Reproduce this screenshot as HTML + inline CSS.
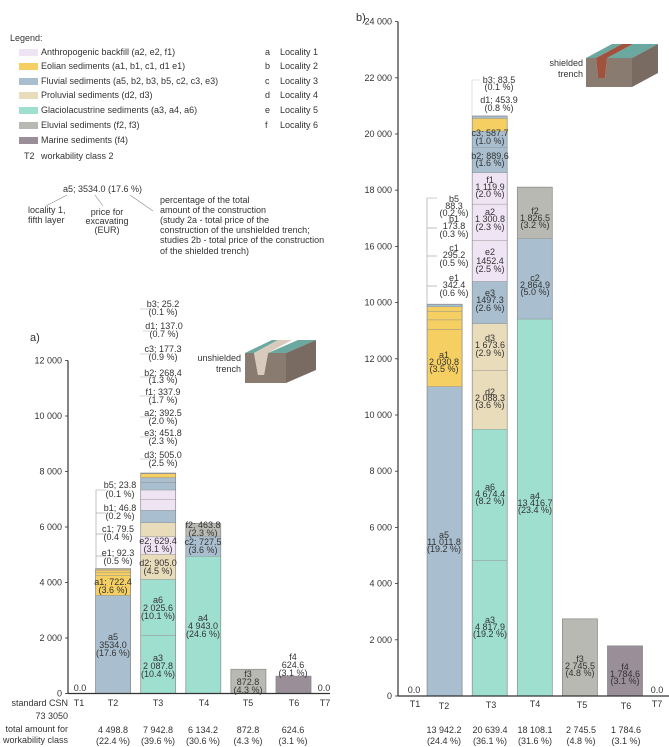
<!DOCTYPE html>
<html><head><meta charset="utf-8">
<style>
html,body{margin:0;padding:0;background:#fff;}
svg{display:block;font-family:"Liberation Sans",sans-serif;}
text{fill:#333;font-size:9px;}
.c{text-anchor:middle;}
.r{text-anchor:end;}
.lt{font-size:9px;}
</style></head>
<body>
<svg id="root" width="669" height="747" viewBox="0 0 669 747">
<g>
<text x="10" y="41" class="lt">Legend:</text>
<rect x="19" y="49" width="19" height="7" fill="#efe4f4"/><text x="41" y="55" class="lt">Anthropogenic backfill (a2, e2, f1)</text>
<rect x="19" y="63" width="19" height="7" fill="#f5cf62"/><text x="41" y="69" class="lt">Eolian sediments (a1, b1, c1, d1 e1)</text>
<rect x="19" y="78" width="19" height="7" fill="#a9bfcf"/><text x="41" y="84" class="lt">Fluvial sediments (a5, b2, b3, b5, c2, c3, e3)</text>
<rect x="19" y="92" width="19" height="7" fill="#e9dcbb"/><text x="41" y="98" class="lt">Proluvial sediments (d2, d3)</text>
<rect x="19" y="107" width="19" height="7" fill="#9fdfcf"/><text x="41" y="113" class="lt">Glaciolacustrine sediments (a3, a4, a6)</text>
<rect x="19" y="122" width="19" height="7" fill="#b9b9b3"/><text x="41" y="128" class="lt">Eluvial sediments (f2, f3)</text>
<rect x="19" y="137" width="19" height="7" fill="#9a8e99"/><text x="41" y="143" class="lt">Marine sediments (f4)</text>
<text x="24" y="159" class="lt">T2</text><text x="41" y="159" class="lt">workability class 2</text>
<text x="265" y="55" class="lt">a</text><text x="280" y="55" class="lt">Locality 1</text>
<text x="265" y="69" class="lt">b</text><text x="280" y="69" class="lt">Locality 2</text>
<text x="265" y="84" class="lt">c</text><text x="280" y="84" class="lt">Locality 3</text>
<text x="265" y="98" class="lt">d</text><text x="280" y="98" class="lt">Locality 4</text>
<text x="265" y="113" class="lt">e</text><text x="280" y="113" class="lt">Locality 5</text>
<text x="265" y="128" class="lt">f</text><text x="280" y="128" class="lt">Locality 6</text>
</g>
<g>
<text x="63" y="192" class="lt">a5; 3534.0 (17.6 %)</text>
<line x1="67" y1="195" x2="46" y2="206" stroke="#888" stroke-width="0.6"/>
<line x1="95" y1="195" x2="103" y2="206" stroke="#888" stroke-width="0.6"/>
<line x1="130" y1="195" x2="153" y2="211" stroke="#888" stroke-width="0.6"/>
<text x="28" y="213">locality 1,</text><text x="28" y="223">fifth layer</text>
<text x="107" y="215" class="c">price for</text><text x="107" y="224" class="c">excavating</text><text x="107" y="233" class="c">(EUR)</text>
<text x="160" y="203" class="lt">percentage of the total</text>
<text x="160" y="213" class="lt">amount of the construction</text>
<text x="160" y="223" class="lt">(study 2a - total price of the</text>
<text x="160" y="233" class="lt">construction of the unshielded trench;</text>
<text x="160" y="243" class="lt">studies 2b - total price of the construction</text>
<text x="160" y="254" class="lt">of the shielded trench)</text>
</g>

<text x="30" y="341" style="font-size:11px">a)</text>
<text x="356" y="21" style="font-size:11px">b)</text>

<g>
<polygon points="245,353 272,340 278,340 254,353" fill="#6aa8a0"/>
<polygon points="268,353 298,340 316,340 286,353" fill="#6aa8a0"/>
<polygon points="245,353 254,353 258,375 264,375 268,353 286,353 286,383 245,383" fill="#8a7b70"/>
<polygon points="286,353 316,340 316,370 286,383" fill="#7a6b62"/>
<polygon points="254,353 278,340 292,340 268,353 264,375 258,375" fill="#d8cbbd"/>
<text x="241" y="361" class="r">unshielded</text><text x="241" y="372" class="r">trench</text>
</g>
<g>
<polygon points="586,58 612,44 622,44 596,58" fill="#6aa8a0"/>
<polygon points="607,58 633,44 658,44 632,58" fill="#6aa8a0"/>
<polygon points="586,58 596,58 598,78 605,78 607,58 632,58 632,87 586,87" fill="#8a7b70"/>
<polygon points="632,58 658,44 658,73 632,87" fill="#7a6b62"/>
<polygon points="596,58 622,44 633,44 607,58 605,78 598,78" fill="#a0523f"/>
<text x="583" y="66" class="r">shielded</text><text x="583" y="77" class="r">trench</text>
</g>

<g id="chartA"></g>
<g id="chartB"></g>

<g>
<polyline points="106,490 96,490 96,569" fill="none" stroke="#999" stroke-width="0.6"/>
<line x1="96" y1="513" x2="106" y2="513" stroke="#999" stroke-width="0.6"/>
<line x1="96" y1="534" x2="106" y2="534" stroke="#999" stroke-width="0.6"/>
<line x1="96" y1="556" x2="106" y2="556" stroke="#999" stroke-width="0.6"/>
<text x="120" y="488" class="c">b5; 23.8</text><text x="120" y="497" class="c">(0.1 %)</text>
<text x="120" y="511" class="c">b1; 46.8</text><text x="120" y="519" class="c">(0.2 %)</text>
<text x="118" y="532" class="c">c1; 79.5</text><text x="118" y="540" class="c">(0.4 %)</text>
<text x="118" y="556" class="c">e1; 92.3</text><text x="118" y="564" class="c">(0.5 %)</text>
<text x="113" y="585" class="c">a1; 722.4</text><text x="113" y="593" class="c">(3.6 %)</text>
<text x="113" y="640" class="c">a5</text><text x="113" y="648" class="c">3534.0</text><text x="113" y="656" class="c">(17.6 %)</text>
<g stroke="#bbb" stroke-width="0.6">
<line x1="140" y1="309" x2="150" y2="309"/><line x1="143" y1="331" x2="150" y2="331"/><line x1="140" y1="354" x2="150" y2="354"/><line x1="140" y1="377" x2="150" y2="377"/><line x1="140" y1="396" x2="150" y2="396"/><line x1="140" y1="417" x2="150" y2="417"/><line x1="140" y1="437" x2="150" y2="437"/><line x1="140" y1="459" x2="150" y2="459"/>
</g>
<text x="163" y="307" class="c">b3; 25.2</text><text x="163" y="315" class="c">(0.1 %)</text>
<text x="164" y="329" class="c">d1; 137.0</text><text x="164" y="337" class="c">(0.7 %)</text>
<text x="163" y="352" class="c">c3; 177.3</text><text x="163" y="360" class="c">(0.9 %)</text>
<text x="163" y="376" class="c">b2; 268.4</text><text x="163" y="383" class="c">(1.3 %)</text>
<text x="163" y="395" class="c">f1; 337.9</text><text x="163" y="403" class="c">(1.7 %)</text>
<text x="163" y="416" class="c">a2; 392.5</text><text x="163" y="424" class="c">(2.0 %)</text>
<text x="163" y="436" class="c">e3; 451.8</text><text x="163" y="444" class="c">(2.3 %)</text>
<text x="163" y="458" class="c">d3; 505.0</text><text x="163" y="466" class="c">(2.5 %)</text>
<text x="158" y="544" class="c">e2; 629.4</text><text x="158" y="552" class="c">(3.1 %)</text>
<text x="158" y="566" class="c">d2; 905.0</text><text x="158" y="574" class="c">(4.5 %)</text>
<text x="158" y="603" class="c">a6</text><text x="158" y="611" class="c">2 025.6</text><text x="158" y="619" class="c">(10.1 %)</text>
<text x="158" y="661" class="c">a3</text><text x="158" y="669" class="c">2 087.8</text><text x="158" y="677" class="c">(10.4 %)</text>
<text x="203" y="528" class="c">f2; 463.8</text><text x="203" y="536" class="c">(2.3 %)</text>
<text x="203" y="545" class="c">c2; 727.5</text><text x="203" y="553" class="c">(3.6 %)</text>
<text x="203" y="621" class="c">a4</text><text x="203" y="629" class="c">4 943.0</text><text x="203" y="637" class="c">(24.6 %)</text>
<text x="248" y="677" class="c">f3</text><text x="248" y="685" class="c">872.8</text><text x="248" y="693" class="c">(4.3 %)</text>
<text x="293" y="660" class="c">f4</text><text x="293" y="668" class="c">624.6</text><text x="293" y="676" class="c">(3.1 %)</text>
<text x="80" y="691" class="c">0.0</text><text x="324" y="691" class="c">0.0</text>
<text x="68" y="706" class="r">standard CSN</text><text x="68" y="719" class="r">73 3050</text>
<text x="68" y="732" class="r">total amount for</text><text x="68" y="743" class="r">workability class</text>
<text x="113" y="733" class="c">4 498.8</text><text x="113" y="744" class="c">(22.4 %)</text>
<text x="158" y="733" class="c">7 942.8</text><text x="158" y="744" class="c">(39.6 %)</text>
<text x="203" y="733" class="c">6 134.2</text><text x="203" y="744" class="c">(30.6 %)</text>
<text x="248" y="733" class="c">872.8</text><text x="248" y="744" class="c">(4.3 %)</text>
<text x="293" y="733" class="c">624.6</text><text x="293" y="744" class="c">(3.1 %)</text>
</g>

<g>
<polyline points="437,198 427,198 427,304" fill="none" stroke="#999" stroke-width="0.6"/>
<line x1="427" y1="228" x2="437" y2="228" stroke="#999" stroke-width="0.6"/>
<line x1="427" y1="256" x2="437" y2="256" stroke="#999" stroke-width="0.6"/>
<line x1="427" y1="286" x2="437" y2="286" stroke="#999" stroke-width="0.6"/>
<polyline points="480,80 472,80 472,116" fill="none" stroke="#ccc" stroke-width="0.6"/>
<text x="454" y="202" class="c">b5</text><text x="454" y="209" class="c">88.3</text><text x="454" y="216" class="c">(0.2 %)</text>
<text x="454" y="222" class="c">b1</text><text x="454" y="229" class="c">173.8</text><text x="454" y="237" class="c">(0.3 %)</text>
<text x="454" y="251" class="c">c1</text><text x="454" y="258" class="c">295.2</text><text x="454" y="266" class="c">(0.5 %)</text>
<text x="454" y="281" class="c">e1</text><text x="454" y="288" class="c">342.4</text><text x="454" y="296" class="c">(0.6 %)</text>
<text x="444" y="358" class="c">a1</text><text x="444" y="365" class="c">2 030.8</text><text x="444" y="372" class="c">(3.5 %)</text>
<text x="444" y="538" class="c">a5</text><text x="444" y="545" class="c">11 011.8</text><text x="444" y="552" class="c">(19.2 %)</text>
<text x="499" y="83" class="c">b3; 83.5</text><text x="499" y="90" class="c">(0.1 %)</text>
<text x="499" y="103" class="c">d1; 453.9</text><text x="499" y="111" class="c">(0.8 %)</text>
<text x="490" y="136" class="c">c3; 587.7</text><text x="490" y="144" class="c">(1.0 %)</text>
<text x="490" y="159" class="c">b2; 889.6</text><text x="490" y="166" class="c">(1.6 %)</text>
<text x="490" y="183" class="c">f1</text><text x="490" y="190" class="c">1 119.9</text><text x="490" y="197" class="c">(2.0 %)</text>
<text x="490" y="215" class="c">a2</text><text x="490" y="222" class="c">1 300.8</text><text x="490" y="230" class="c">(2.3 %)</text>
<text x="490" y="255" class="c">e2</text><text x="490" y="264" class="c">1452.4</text><text x="490" y="272" class="c">(2.5 %)</text>
<text x="490" y="296" class="c">e3</text><text x="490" y="303" class="c">1497.3</text><text x="490" y="311" class="c">(2.6 %)</text>
<text x="490" y="341" class="c">d3</text><text x="490" y="348" class="c">1 673.6</text><text x="490" y="356" class="c">(2.9 %)</text>
<text x="490" y="395" class="c">d2</text><text x="490" y="401" class="c">2 088.3</text><text x="490" y="408" class="c">(3.6 %)</text>
<text x="490" y="490" class="c">a6</text><text x="490" y="497" class="c">4 674.4</text><text x="490" y="504" class="c">(8.2 %)</text>
<text x="490" y="623" class="c">a3</text><text x="490" y="630" class="c">4 817.9</text><text x="490" y="637" class="c">(19.2 %)</text>
<text x="535" y="214" class="c">f2</text><text x="535" y="221" class="c">1 826.5</text><text x="535" y="228" class="c">(3.2 %)</text>
<text x="535" y="281" class="c">c2</text><text x="535" y="288" class="c">2 864.9</text><text x="535" y="295" class="c">(5.0 %)</text>
<text x="535" y="499" class="c">a4</text><text x="535" y="506" class="c">13 416.7</text><text x="535" y="513" class="c">(23.4 %)</text>
<text x="580" y="662" class="c">f3</text><text x="580" y="669" class="c">2 745.5</text><text x="580" y="676" class="c">(4.8 %)</text>
<text x="625" y="670" class="c">f4</text><text x="625" y="677" class="c">1 784.6</text><text x="625" y="684" class="c">(3.1 %)</text>
<text x="414" y="693" class="c">0.0</text><text x="657" y="693" class="c">0.0</text>
<text x="444" y="733" class="c">13 942.2</text><text x="444" y="744" class="c">(24.4 %)</text>
<text x="490" y="733" class="c">20 639.4</text><text x="490" y="744" class="c">(36.1 %)</text>
<text x="535" y="733" class="c">18 108.1</text><text x="535" y="744" class="c">(31.6 %)</text>
<text x="581" y="733" class="c">2 745.5</text><text x="581" y="744" class="c">(4.8 %)</text>
<text x="626" y="733" class="c">1 784.6</text><text x="626" y="744" class="c">(3.1 %)</text>
</g>
</svg>
<script>
const categories = ['T1','T2','T3','T4','T5','T6','T7'];
const typeColors = {anthro:'#efe4f4', eolian:'#f5cf62', fluvial:'#a9bfcf', proluvial:'#e9dcbb', glacio:'#9fdfcf', eluvial:'#b9b9b3', marine:'#9a8e99'};
const segCatA  = [1,1,1,1,1,1, 2,2,2,2,2,2,2,2,2,2,2,2, 3,3,3, 4, 5];
const segNameA = ['a5','a1','e1','c1','b1','b5', 'a3','a6','d2','e2','d3','e3','a2','f1','b2','c3','d1','b3', 'a4','c2','f2', 'f3', 'f4'];
const segTypeA = ['fluvial','eolian','eolian','eolian','eolian','fluvial', 'glacio','glacio','proluvial','anthro','proluvial','fluvial','anthro','anthro','fluvial','fluvial','eolian','fluvial', 'glacio','fluvial','eluvial', 'eluvial', 'marine'];
const segValA  = [3534.0,722.4,92.3,79.5,46.8,23.8, 2087.8,2025.6,905.0,629.4,505.0,451.8,392.5,337.9,268.4,177.3,137.0,25.2, 4943.0,727.5,463.8, 872.8, 624.6];
const tickValsA = [0,2000,4000,6000,8000,10000,12000];
const tickLabelsA = ['0','2 000','4 000','6 000','8 000','10 000','12 000'];
const segCatB  = [1,1,1,1,1,1, 2,2,2,2,2,2,2,2,2,2,2,2, 3,3,3, 4, 5];
const segNameB = ['a5','a1','e1','c1','b1','b5', 'a3','a6','d2','d3','e3','e2','a2','f1','b2','c3','d1','b3', 'a4','c2','f2', 'f3', 'f4'];
const segTypeB = ['fluvial','eolian','eolian','eolian','eolian','fluvial', 'glacio','glacio','proluvial','proluvial','fluvial','anthro','anthro','anthro','fluvial','fluvial','eolian','fluvial', 'glacio','fluvial','eluvial', 'eluvial', 'marine'];
const segValB  = [11011.8,2030.8,342.4,295.2,173.8,88.3, 4817.9,4674.4,2088.3,1673.6,1497.3,1452.4,1300.8,1119.9,889.6,587.7,453.9,83.5, 13416.7,2864.9,1826.5, 2745.5, 1784.6];
const tickValsB = [0,2000,4000,6000,8000,10000,12000,14000,16000,18000,20000,22000,24000];
const tickLabelsB = ['0','2 000','4 000','6 000','8 000','10 000','12 000','10 000','16 000','18 000','20 000','22 000','24 000'];

const NS='http://www.w3.org/2000/svg';
function mk(tag, attrs, parent){const e=document.createElementNS(NS,tag);for(const k in attrs)e.setAttribute(k,attrs[k]);parent.appendChild(e);return e;}

function drawChart(g, cfg){
  const {y, x, axisX, top, right, cats, names, types, vals, tv, tl, catLabelY, prefix} = cfg;
  const bw = 35;
  const acc = {};
  for(let i=0;i<vals.length;i++){
    const c = cats[i]; const base = acc[c]||0; const t = base+vals[i]; acc[c]=t;
    const r = mk('rect',{x:x(c)-bw/2, y:y(t), width:bw, height:Math.max(0.3,y(base)-y(t)), fill:typeColors[types[i]], stroke:'#8f8f8f','stroke-width':0.4}, g);
    
    
  }
  for(const c in acc){
    const o = mk('rect',{x:x(+c)-bw/2, y:y(acc[c]), width:bw, height:y(0)-y(acc[c]), fill:'none', stroke:'#8a8a8a','stroke-width':0.7}, g);
    
    
  }
  const ax = mk('line',{x1:axisX,y1:y(top),x2:axisX,y2:y(0),stroke:'#333','stroke-width':1.2}, g);
  
  
  const bx = mk('line',{x1:axisX,y1:y(0),x2:right,y2:y(0),stroke:'#333','stroke-width':1.2}, g);
  
  
  for(let i=0;i<tv.length;i++){
    mk('line',{x1:axisX-3,y1:y(tv[i]),x2:axisX,y2:y(tv[i]),stroke:'#333','stroke-width':0.8}, g);
    const t = mk('text',{x:axisX-6,y:y(tv[i])+3,class:'r'}, g);
    t.textContent = tl[i];
    
    
  }
  for(let c=0;c<categories.length;c++){
    const t = mk('text',{x:cfg.catX[c], y:catLabelY[c], class:'c'}, g);
    t.textContent = categories[c];
    
    
  }
}
const yA = v => 693.5 - v*0.02775;
const xA = i => 68 + i*45.1;
const yB = v => 696 - v*0.0281;
const xB = i => 399.5 + i*45.1;
drawChart(document.getElementById('chartA'), {y:yA, x:xA, axisX:68, top:12000, right:330, cats:segCatA, names:segNameA, types:segTypeA, vals:segValA, tv:tickValsA, tl:tickLabelsA, catX:[79,113,158,204,248,294,325], catLabelY:[706,706,706,706,706,706,706], prefix:'chart-a'});
drawChart(document.getElementById('chartB'), {y:yB, x:xB, axisX:398, top:24000, right:669, cats:segCatB, names:segNameB, types:segTypeB, vals:segValB, tv:tickValsB, tl:tickLabelsB, catX:[415,444,491,535,582,626,657], catLabelY:[707,709,708,707,708,709,707], prefix:'chart-b'});
</script>
</body></html>
